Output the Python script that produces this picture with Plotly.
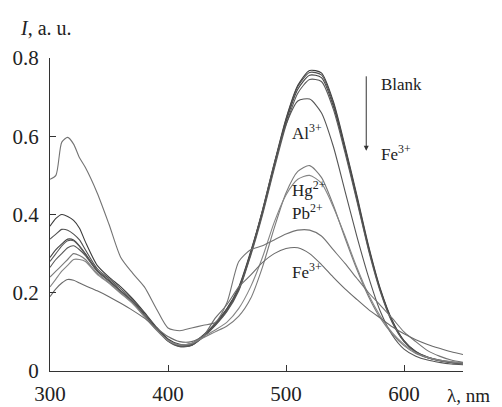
import plotly.graph_objects as go

# Wavelength grid (nm)
wavelength = [300, 305, 310, 315, 320, 325, 330, 340, 350, 360, 370, 380, 390, 400,
              410, 420, 430, 440, 450, 460, 470, 480, 490, 500, 510, 520, 530, 540,
              550, 560, 570, 580, 590, 600, 610, 620, 630, 640, 650]

# Intensity spectra (a.u.)
blank_1 = [0.37, 0.39, 0.40, 0.395, 0.385, 0.365, 0.33, 0.27, 0.24, 0.215, 0.185, 0.15, 0.113, 0.082,
           0.068, 0.07, 0.092, 0.122, 0.16, 0.215, 0.305, 0.41, 0.53, 0.645, 0.73, 0.768, 0.762, 0.69,
           0.575, 0.45, 0.32, 0.21, 0.13, 0.078, 0.05, 0.036, 0.028, 0.023, 0.02]
blank_2 = [0.337, 0.35, 0.362, 0.36, 0.35, 0.335, 0.31, 0.262, 0.236, 0.21, 0.182, 0.147, 0.11, 0.08,
           0.066, 0.068, 0.09, 0.12, 0.158, 0.212, 0.302, 0.407, 0.527, 0.642, 0.727, 0.763, 0.757, 0.685,
           0.57, 0.445, 0.316, 0.207, 0.128, 0.077, 0.049, 0.035, 0.027, 0.022, 0.019]
blank_3 = [0.29, 0.31, 0.325, 0.337, 0.335, 0.32, 0.30, 0.258, 0.232, 0.205, 0.178, 0.143, 0.108, 0.078,
           0.064, 0.066, 0.088, 0.118, 0.155, 0.208, 0.298, 0.403, 0.522, 0.636, 0.72, 0.756, 0.75, 0.678,
           0.565, 0.44, 0.312, 0.205, 0.126, 0.076, 0.048, 0.034, 0.027, 0.022, 0.019]
blank_4 = [0.28, 0.30, 0.32, 0.333, 0.333, 0.318, 0.298, 0.255, 0.23, 0.203, 0.176, 0.141, 0.106, 0.076,
           0.062, 0.065, 0.087, 0.116, 0.152, 0.205, 0.294, 0.398, 0.516, 0.628, 0.71, 0.745, 0.74, 0.67,
           0.558, 0.435, 0.308, 0.202, 0.124, 0.075, 0.047, 0.034, 0.026, 0.021, 0.018]
al_3 = [0.265, 0.285, 0.30, 0.315, 0.32, 0.31, 0.295, 0.255, 0.23, 0.204, 0.177, 0.142, 0.107, 0.077,
        0.063, 0.066, 0.088, 0.118, 0.155, 0.21, 0.30, 0.41, 0.53, 0.63, 0.69, 0.695, 0.66, 0.575,
        0.46, 0.345, 0.24, 0.152, 0.092, 0.056, 0.038, 0.028, 0.022, 0.018, 0.016]
hg_2 = [0.24, 0.255, 0.27, 0.285, 0.30, 0.295, 0.285, 0.25, 0.226, 0.2, 0.174, 0.14, 0.106, 0.078,
        0.066, 0.07, 0.085, 0.1, 0.115, 0.14, 0.185, 0.265, 0.365, 0.455, 0.51, 0.525, 0.495, 0.425,
        0.34, 0.26, 0.19, 0.135, 0.095, 0.065, 0.045, 0.034, 0.027, 0.023, 0.02]
pb_2 = [0.215, 0.235, 0.255, 0.27, 0.285, 0.285, 0.28, 0.247, 0.224, 0.198, 0.172, 0.139, 0.105, 0.078,
        0.067, 0.071, 0.088, 0.105, 0.125, 0.16, 0.215, 0.29, 0.38, 0.45, 0.49, 0.5, 0.48, 0.42,
        0.345, 0.265, 0.195, 0.14, 0.098, 0.068, 0.047, 0.035, 0.028, 0.024, 0.021]
ion_x = [0.49, 0.50, 0.585, 0.597, 0.58, 0.545, 0.52, 0.455, 0.375, 0.29, 0.25, 0.215, 0.16, 0.11,
         0.103, 0.11, 0.117, 0.124, 0.175, 0.28, 0.31, 0.32, 0.335, 0.35, 0.36, 0.36, 0.345, 0.31,
         0.275, 0.237, 0.2, 0.168, 0.135, 0.1, 0.075, 0.052, 0.038, 0.028, 0.022]
fe_3 = [0.19, 0.21, 0.225, 0.234, 0.232, 0.225, 0.218, 0.205, 0.19, 0.173, 0.155, 0.135, 0.11, 0.088,
        0.075, 0.075, 0.09, 0.135, 0.17, 0.215, 0.245, 0.277, 0.3, 0.313, 0.315, 0.3, 0.272, 0.24,
        0.21, 0.183, 0.157, 0.135, 0.113, 0.095, 0.08, 0.068, 0.058, 0.049, 0.042]

series = [
    ("Blank", blank_1, "#3c3c3c"),
    ("blank 2", blank_2, "#505050"),
    ("blank 3", blank_3, "#444444"),
    ("blank 4", blank_4, "#5a5a5a"),
    ("Al3+", al_3, "#555555"),
    ("Hg2+", hg_2, "#7a7a7a"),
    ("Pb2+", pb_2, "#858585"),
    ("ion", ion_x, "#737373"),
    ("Fe3+", fe_3, "#6a6a6a"),
]

fig = go.Figure()
for name, vals, col in series:
    fig.add_trace(go.Scatter(x=wavelength, y=vals, mode="lines", name=name,
                             line=dict(color=col, width=1.1, shape="spline", smoothing=0.7),
                             showlegend=False, hoverinfo="skip"))

FONT = "Liberation Serif, Times New Roman, serif"
lab = dict(family=FONT, size=17, color="#222222")

ann = [
    dict(x=503.5, y=0.61, text="Al<sup>3+</sup>", xanchor="left", yanchor="middle"),
    dict(x=503.5, y=0.466, text="Hg<sup>2+</sup>", xanchor="left", yanchor="middle"),
    dict(x=503.5, y=0.406, text="Pb<sup>2+</sup>", xanchor="left", yanchor="middle"),
    dict(x=503.5, y=0.255, text="Fe<sup>3+</sup>", xanchor="left", yanchor="middle"),
    dict(x=578.5, y=0.733, text="Blank", xanchor="left", yanchor="middle"),
    dict(x=578.5, y=0.556, text="Fe<sup>3+</sup>", xanchor="left", yanchor="middle"),
]
annotations = []
for a in ann:
    a.update(xref="x", yref="y", showarrow=False, font=lab)
    annotations.append(a)

annotations.append(dict(x=568, y=0.563, ax=568, ay=0.757, xref="x", yref="y", axref="x", ayref="y",
                        showarrow=True, arrowhead=2, arrowsize=1, arrowwidth=1, arrowcolor="#333333",
                        text=""))
annotations.append(dict(x=-0.078, y=1.096, xref="paper", yref="paper", xanchor="left", yanchor="middle",
                        text="<i>I</i>, a. u.", showarrow=False,
                        font=dict(family=FONT, size=20, color="#222222")))
annotations.append(dict(x=1.07, y=-0.077, xref="paper", yref="paper", xanchor="right", yanchor="middle",
                        text="λ, nm", showarrow=False,
                        font=dict(family=FONT, size=19, color="#222222")))

# page body has an 8px margin, so the figure is drawn 8px smaller with shifted margins
fig.update_layout(
    width=494, height=399,
    margin=dict(l=42, r=39, t=50, b=36),
    paper_bgcolor="white", plot_bgcolor="white",
    annotations=annotations,
    font=dict(family=FONT, size=21, color="#222222"),
)
fig.update_xaxes(range=[300, 650], tickvals=[300, 400, 500, 600], ticktext=["300", "400", "500", "600"],
                 ticks="inside", ticklen=6, tickcolor="#333333", showline=True, linecolor="#333333",
                 linewidth=1, showgrid=False, zeroline=False, tickfont=dict(size=21),
                 automargin=False, ticklabelstandoff=4)
fig.update_yaxes(range=[0, 0.8], tickvals=[0, 0.2, 0.4, 0.6, 0.8], ticktext=["0", "0.2", "0.4", "0.6", "0.8"],
                 ticks="inside", ticklen=6, tickcolor="#333333", showline=True, linecolor="#333333",
                 linewidth=1, showgrid=False, zeroline=False, tickfont=dict(size=21),
                 automargin=False, ticklabelstandoff=6)

fig.write_html("out.html")
